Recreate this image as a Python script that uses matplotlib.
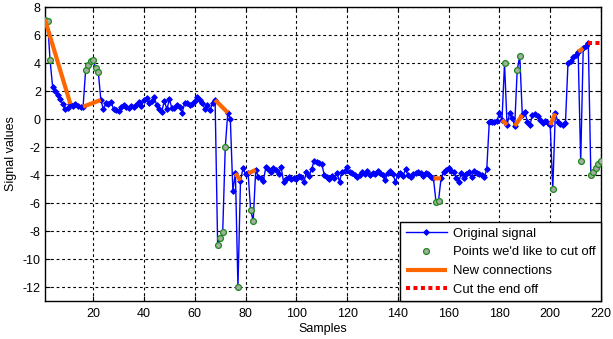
import numpy as np
import matplotlib
matplotlib.use("Agg")
import matplotlib.pyplot as plt

plt.rcParams['font.family'] = ['Liberation Sans', 'DejaVu Sans']
plt.rcParams['axes.unicode_minus'] = False

# ---- data (sample index starts at 1) ----
signal = [
    7.1, 7.0, 4.2, 2.31, 2.02, 1.71, 1.4, 1.07, 0.69, 0.76,
    1.07, 0.93, 1.07, 0.93, 0.88, 0.88, 3.48, 3.83, 4.12, 4.19,
    3.62, 3.33, 1.36, 0.69, 1.12, 1.07, 1.24, 0.69, 0.64, 0.57,
    0.88, 1.0, 0.88, 0.76, 0.93, 0.83, 1.0, 1.24, 0.93, 1.36,
    1.48, 1.12, 1.31, 1.55, 1.0, 0.69, 0.52, 1.31, 0.69, 1.4,
    0.76, 0.76, 1.0, 0.88, 0.45, 1.12, 1.17, 1.0, 1.07, 1.31,
    1.6, 1.36, 1.17, 0.69, 1.0, 0.64, 1.12, 1.36, -9.0, -8.52,
    -8.05, -2.02, 0.45, -0.02, -5.14, -3.88, -12.0, -4.4, -3.52, -3.95,
    -3.88, -6.5, -7.29, -3.64, -4.12, -4.24, -4.40, -3.45, -3.6, -3.81,
    -3.52, -3.64, -3.93, -3.45, -4.52, -4.31, -4.17, -4.31, -4.24, -4.31,
    -4.07, -4.17, -4.48, -3.76, -4.07, -3.6, -2.98, -3.05, -3.17, -3.21,
    -4.0, -4.17, -4.31, -4.07, -4.24, -3.83, -4.48, -3.76, -3.69, -3.45,
    -3.76, -3.88, -4.0, -4.12, -4.0, -3.76, -3.93, -3.69, -4.0, -3.83,
    -3.93, -3.69, -3.88, -4.0, -4.36, -3.88, -3.69, -3.93, -4.48, -4.0,
    -3.88, -4.07, -3.6, -4.0, -4.12, -3.93, -3.88, -3.76, -3.83, -4.07,
    -3.88, -3.93, -4.17, -4.24, -5.9, -5.83, -4.24, -3.76, -3.64, -3.52,
    -3.69, -3.76, -4.24, -4.48, -3.83, -4.24, -3.93, -3.76, -4.12, -3.69,
    -3.88, -3.93, -4.0, -4.17, -3.6, -0.19, -0.19, -0.19, -0.12, 0.4,
    -0.07, 3.98, -0.43, 0.4, 0.1, -0.5, 3.5, 4.5, 0.29, 0.52,
    -0.19, -0.43, 0.29, 0.36, 0.21, -0.07, -0.26, -0.12, -0.3, -0.43,
    -5.02, 0.4, -0.19, -0.36, -0.43, -0.3, 4.02, 4.17, 4.4, 4.57,
    4.81, -3.02, 5.05, 5.21, 5.45, -4.0, -3.76, -3.52, -3.21, -3.02,
]
cut_points = [1, 2, 3, 17, 18, 19, 20, 21, 22, 69, 70, 71, 72, 77, 82, 83,
              155, 156, 182, 187, 188, 201, 212, 216, 217, 218, 219, 220]
connections = [(1, 11), (16, 23), (68, 73), (76, 78), (81, 84), (154, 157),
               (181, 183), (186, 189), (200, 202), (211, 213)]
end_cut = (215, 220)

x_ticks = list(range(20, 221, 20))
y_ticks = list(range(-12, 9, 2))

sig = np.array(signal)
xs = np.arange(1, len(sig) + 1)

fig = plt.figure(figsize=(6.13, 3.39), dpi=100)
ax = fig.add_axes([45/613, 1 - 301/339, 556/613, 294/339])

ax.plot(xs, sig, color='#0000ff', lw=1.0, marker='D', ms=2.9, mew=0.7,
        label='Original signal', zorder=3)
ci = np.array(cut_points)
ax.plot(ci, sig[ci - 1], linestyle='none', marker='o', ms=4.2, mfc='#a4aea0',
        mec='#1a8a1a', mew=0.9, label="Points we'd like to cut off", zorder=4)
cx, cy = [], []
for a, b in connections:
    cx += [a, b, np.nan]
    cy += [sig[a - 1], sig[b - 1], np.nan]
ax.plot(cx, cy, color='#ff6600', lw=3.0, solid_capstyle='butt',
        label='New connections', zorder=5)
ax.plot([end_cut[0], end_cut[1]], [sig[end_cut[0] - 1]] * 2, color='#ff0000',
        lw=2.9, linestyle=(0, (1, 0.85)), dash_capstyle='butt',
        label='Cut the end off', zorder=5)

ax.set_xlim(1, 220)
ax.set_ylim(-13, 8)
ax.set_xticks(x_ticks)
ax.set_yticks(y_ticks)
ax.grid(True, color='black', linestyle=(0, (2.5, 2.5)), linewidth=0.8)
ax.tick_params(direction='in', length=3.5, width=0.8, top=True, right=True,
               labelsize=9)
ax.tick_params(axis='x', pad=5)
ax.tick_params(axis='y', pad=3)
for s in ax.spines.values():
    s.set_linewidth(1.0)
ax.set_xlabel('Samples', fontsize=9, labelpad=2)
ax.set_ylabel('Signal values', fontsize=9, labelpad=4)

leg = ax.legend(loc='lower right', borderaxespad=0, fontsize=9.4, fancybox=False,
                framealpha=1, edgecolor='black', handlelength=3.2,
                handletextpad=0.45, labelspacing=0.5, borderpad=0.4)
leg.get_frame().set_linewidth(1.0)
leg.set_zorder(10)

fig.savefig('out.png', dpi=100)
